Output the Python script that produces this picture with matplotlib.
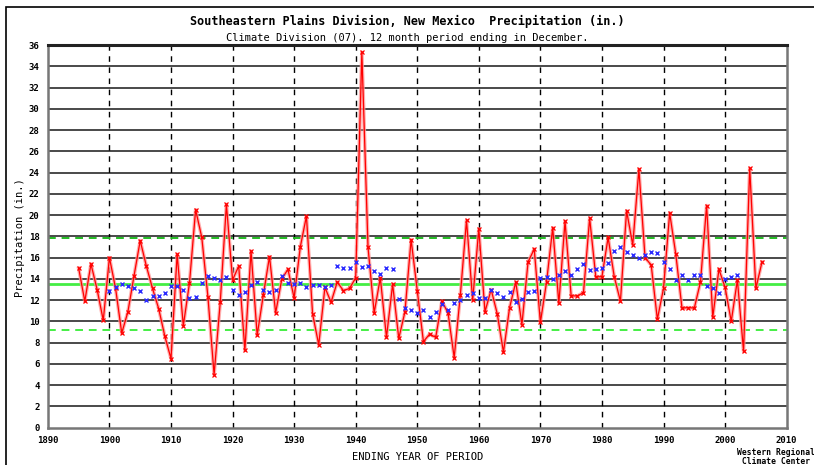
import numpy as np
import matplotlib
matplotlib.use("Agg")
import matplotlib.pyplot as plt
from matplotlib.patches import Rectangle

# annual precipitation, 1895-2006
years = list(range(1895, 2007))
precip = [15.0, 11.9, 15.4, 13.0, 10.1, 16.0, 13.1, 8.9, 10.9, 14.3,
          17.6, 15.2, 13.1, 11.2, 8.6, 6.5, 16.3, 9.6, 13.6, 20.5,
          17.9, 12.3, 5.0, 11.8, 21.0, 13.9, 15.2, 7.3, 16.6, 8.7,
          12.5, 16.1, 10.8, 14.0, 14.9, 12.2, 17.0, 19.9, 10.7, 7.8,
          13.2, 11.8, 13.7, 12.9, 13.1, 14.1, 35.3, 17.0, 10.8, 14.1,
          8.5, 13.5, 8.4, 10.9, 17.7, 12.9, 8.1, 8.8, 8.5, 11.9,
          10.8, 6.6, 12.5, 19.5, 12.0, 18.7, 10.9, 13.0, 10.7, 7.1,
          11.3, 13.7, 9.7, 15.6, 16.8, 9.9, 13.7, 18.8, 11.7, 19.4,
          12.4, 12.4, 12.7, 19.7, 14.2, 14.2, 17.9, 14.2, 11.9, 20.4,
          17.2, 24.3, 16.0, 15.3, 10.2, 13.1, 20.2, 16.3, 11.25, 11.3,
          11.25, 13.7, 20.9, 10.4, 14.9, 13.2, 10.0, 13.9, 7.2, 24.4,
          13.1, 15.6]

# running mean points, 1900-2002
mean_years = list(range(1900, 2003))
running = [12.9, 13.2, 13.5, 13.3, 13.1, 12.9, 12.0, 12.4, 12.4, 12.7,
           13.3, 13.3, 13.0, 12.2, 12.3, 13.6, 14.25, 14.1, 13.9, 14.2,
           13.0, 12.5, 12.8, 13.4, 13.7, 13.0, 12.8, 13.0, 14.25, 13.65,
           13.5, 13.6, 13.2, 13.4, 13.4, 13.2, 13.4, 15.25, 15.0, 15.0,
           15.6, 15.1, 15.25, 14.7, 14.5, 15.0, 14.9, 12.1, 11.3, 11.1,
           10.8, 11.1, 10.4, 10.9, 11.65, 11.1, 11.75, 12.0, 12.5, 12.7,
           12.2, 12.2, 13.0, 12.65, 12.3, 12.75, 11.85, 12.1, 12.75, 12.85,
           14.1, 14.2, 14.0, 14.4, 14.7, 14.4, 14.9, 15.4, 14.8, 14.9,
           15.0, 15.5, 16.6, 17.0, 16.5, 16.2, 16.0, 16.25, 16.5, 16.4,
           15.6, 14.9, 13.85, 14.4, 13.85, 14.4, 14.4, 13.3, 13.1, 12.7,
           14.0, 14.2, 14.4]

avg = 13.53
sd = 4.36

mono = "DejaVu Sans Mono"

fig = plt.figure(figsize=(8.14, 4.65), dpi=100)
ax = fig.add_axes([0.0588, 0.0802, 0.9076, 0.823])

for v in range(2, 36, 2):
    ax.axhline(v, color="#3a3a3a", lw=1.3, zorder=1)
for yr in range(1900, 2010, 10):
    ax.axvline(yr, color="black", lw=1.0, ls=(0, (4, 4)), zorder=1)

ax.axhline(avg, color="#44ee44", lw=2.0, zorder=2)
ax.axhline(avg + sd, color="#22bb22", lw=1.4, ls=(0, (4, 3)), zorder=2)
ax.axhline(avg - sd, color="#44ee44", lw=1.4, ls=(0, (4, 3)), zorder=2)

ax.plot(years, precip, color="#ff9a9a", lw=2.6, alpha=0.8, zorder=3)
ax.plot(years, precip, color="red", lw=0.9, marker="x", ms=3, mew=0.9, zorder=4)
ax.plot(mean_years, running, ls="none", marker="x", color="#2a2aff",
        ms=3, mew=1.0, zorder=5)

ax.set_xlim(1890, 2010)
ax.set_ylim(0, 36)
ax.set_xticks(range(1890, 2011, 10))
ax.set_yticks(range(0, 37, 2))
ax.tick_params(length=0, labelsize=6.5, pad=6)
for lab in ax.get_xticklabels() + ax.get_yticklabels():
    lab.set_family(mono)
    lab.set_fontweight("bold")

ax.spines["top"].set_linewidth(2.2)
ax.spines["top"].set_color("#222222")
for s in ["left", "right", "bottom"]:
    ax.spines[s].set_color("#777777")
    ax.spines[s].set_linewidth(1.8)

fig.text(0.5, 0.953, "Southeastern Plains Division, New Mexico  Precipitation (in.)",
         ha="center", va="center", family=mono, fontweight="bold", fontsize=8.5)
fig.text(0.5, 0.918, "Climate Division (07). 12 month period ending in December.",
         ha="center", va="center", family=mono, fontsize=7.5)
fig.text(0.025, 0.49, "Precipitation (in.)", rotation=90, ha="center", va="center",
         family=mono, fontsize=7.5)
fig.text(0.513, 0.017, "ENDING YEAR OF PERIOD", ha="center", va="center",
         family=mono, fontsize=7.5)
fig.text(0.906, 0.018, "Western Regional\n Climate Center", ha="left", va="center",
         family=mono, fontweight="bold", fontsize=5.8, linespacing=1.0)

fig.patches.append(Rectangle((0.007, -0.01), 1.1, 0.995, transform=fig.transFigure,
                             fill=False, edgecolor="black", lw=1.2))

fig.savefig("out.png", dpi=100)
